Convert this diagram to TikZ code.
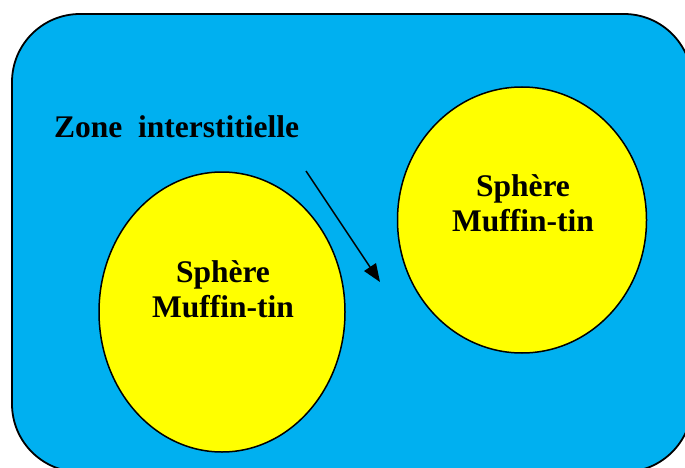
\documentclass[tikz,border=0pt]{standalone}
\usepackage{fontspec}
\setmainfont{Liberation Serif}
\usetikzlibrary{shapes.geometric,arrows.meta}
\definecolor{zoneblue}{HTML}{00B0F0}
\definecolor{sphyellow}{HTML}{FFFF00}
\tikzset{
  zonebox/.style={draw=black,line width=1.8pt,fill=zoneblue,rounded corners=68pt},
  sphere/.style={ellipse,draw=black,line width=1.5pt,fill=sphyellow,inner sep=0pt},
  lbl/.style={font=\fontsize{31.5}{35}\selectfont\bfseries,inner sep=0pt,align=center},
  pointer/.style={line width=1.5pt,-{Triangle[length=18pt,width=14pt]}}
}
\begin{document}
\begin{tikzpicture}[x=1pt,y=-1pt]
\useasboundingbox (0,0) rectangle (685,468);
\begin{scope}
\clip (0,0) rectangle (685,468);
\draw[zonebox] (12,14) rectangle (692,472);
\end{scope}
\node[sphere,minimum width=246pt,minimum height=280pt] (sL) at (222,312) {};
\node[sphere,minimum width=249pt,minimum height=266pt] (sR) at (522,220) {};
\node[lbl] (tL) at (223,289.5) {Sphère\\Muffin-tin};
\node[lbl] (tR) at (523,203.5) {Sphère\\Muffin-tin};
\node[lbl,anchor=base west] (zone) at (54,137) {Zone\ \ interstitielle};
\coordinate (aS) at (306,171);
\coordinate (aE) at (380,282);
\draw[pointer] (aS) -- (aE);
\end{tikzpicture}
\end{document}
